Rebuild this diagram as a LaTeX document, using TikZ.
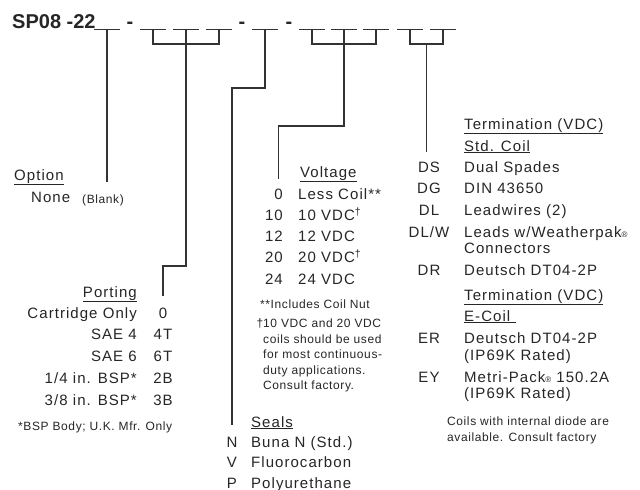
\documentclass[tikz,border=0pt]{standalone}
\usepackage{fontspec}
\setmainfont{Liberation Sans}[LetterSpace=7]
\newfontfamily\titlefont{Liberation Sans}
\newfontfamily\notefont{Liberation Sans}[LetterSpace=5]
\usetikzlibrary{calc}
\newcommand\dg{\textsuperscript{†}}
\newcommand\regm{{\fontsize{8}{8}\selectfont ®}}

\begin{document}
\begin{tikzpicture}[x=1pt,y=-1pt,line cap=butt,
  font=\fontsize{15}{17}\selectfont,text=black!85,
  lead/.style={draw=black!80,line width=1.1pt},
  lbl/.style={anchor=base west,inner sep=0pt},
  lblr/.style={anchor=base east,inner sep=0pt},
  code/.style={anchor=base,inner sep=0pt},
  note/.style={anchor=base west,inner sep=0pt,align=left,font=\notefont\fontsize{12}{15.5}\selectfont},
  titletext/.style={font=\titlefont\bfseries\fontsize{20}{24}\selectfont}]
\path[use as bounding box] (0,0) rectangle (640,490);
\fill[white] (0,0) rectangle (640,490);

% model code with its blanks
\node[lbl,titletext] (title) at (12,28) {SP08 -22};
\foreach \x/\nm in {130/h1,242/h2,289/h3}
  \node[code,titletext] (\nm) at (\x,28) {-};
\foreach \c [count=\i] in {107,153,186,219,265,312,344,376,410,443} {
  \draw[lead] ({\c-13},29.5) -- ({\c+13},29.5);
  \coordinate (b\i) at (\c,29.5);
}
\draw[lead] (b2) -- ++(0,14.5) -| (b4);
\draw[lead] (b6) -- ++(0,14.5) -| (b8);
\draw[lead] (b9) -- ++(0,14.5) -| (b10);
\coordinate (tbr) at ($(b9)!.5!(b10)+(0,14.5)$);

% option
\node[lbl] (opthead) at (14,180) {\underline{Option}};
\node[lbl] (optnone) at (31,202) {None};
\node[note] (optblank) at (82,203) {(Blank)};

% porting
\node[lblr] (porthead) at (137,297) {\underline{Porting}};
\foreach \d/\c [count=\i] in {Cartridge Only/0,SAE 4/4T,SAE 6/6T,{1/4 in. BSP*}/2B,{3/8 in. BSP*}/3B} {
  \node[lblr] (portd\i) at (137,{318+21.75*(\i-1)}) {\d};
  \node[code] (portc\i) at (163,{318+21.75*(\i-1)}) {\c};
}
\node[note] (portnote) at (18,430) {*BSP Body; U.K. Mfr. Only};

% voltage
\node[lbl] (volthead) at (300,177) {\underline{Voltage}};
\foreach \c/\d [count=\i] in {0/Less Coil**,10/10 VDC\dg,12/12 VDC,20/20 VDC\dg,24/24 VDC} {
  \node[lblr] (voltc\i) at (283,{199+21.25*(\i-1)}) {\c};
  \node[lbl] (voltd\i) at (298,{199+21.25*(\i-1)}) {\d};
}
\node[note] (voltnote) at (260,308) {**Includes Coil Nut};
\node[note,anchor=north west] (dutynote) at (263,319) {\llap{†}10 VDC and 20 VDC\\coils should be used\\for most continuous-\\duty applications.\\Consult factory.};

% seals
\node[lbl] (sealhead) at (251,427) {\underline{Seals}};
\foreach \c/\d [count=\i] in {N/Buna N (Std.),V/Fluorocarbon,P/Polyurethane} {
  \node[code] (sealc\i) at (232,{447+20.5*(\i-1)}) {\c};
  \node[lbl] (seald\i) at (251,{447+20.5*(\i-1)}) {\d};
}

% termination
\node[lbl] (termhead) at (464,129) {\underline{Termination (VDC)}};
\node[lbl] (termstd) at (464,151) {\underline{Std. Coil}};
\foreach \c/\d/\y [count=\i] in {DS/Dual Spades/172,DG/DIN 43650/193,DL/Leadwires (2)/215,{DL/W}/{Leads w/Weatherpak\regm}/237,DR/Deutsch DT04-2P/275} {
  \node[code] (termc\i) at (429,\y) {\c};
  \node[lbl] (termd\i) at (464,\y) {\d};
}
\node[lbl] (termd4b) at (464,253) {Connectors};
\node[lbl] (termhead2) at (464,300) {\underline{Termination (VDC)}};
\node[lbl] (termecoil) at (464,321) {\underline{E-Coil\ }};
\node[code] (termc6) at (429,343) {ER};
\node[lbl] (termd6) at (464,343) {Deutsch DT04-2P};
\node[lbl] (termd6b) at (464,360) {(IP69K Rated)};
\node[code] (termc7) at (429,382) {EY};
\node[lbl] (termd7) at (464,382) {Metri-Pack\regm{} 150.2A};
\node[lbl] (termd7b) at (464,398) {(IP69K Rated)};
\node[note,anchor=north west] (coilnote) at (447,417) {Coils with internal diode are\\available. Consult factory};

% leaders from the blanks
\draw[lead,shorten >=12pt] (b1) -- (b1 |- optblank.north);
\draw[lead] (b3) -- ++(0,236.5) -| ([yshift=11pt]portc1.north);
\draw[lead] (b5) -- ++(0,58.5) -| ([yshift=11pt]sealc1.north);
\draw[lead] (b7) -- ++(0,96.5) -| ([yshift=9pt]voltc1.north);
\draw[lead,shorten >=9pt] (tbr) -- (tbr |- termc1.north);
\end{tikzpicture}
\end{document}
